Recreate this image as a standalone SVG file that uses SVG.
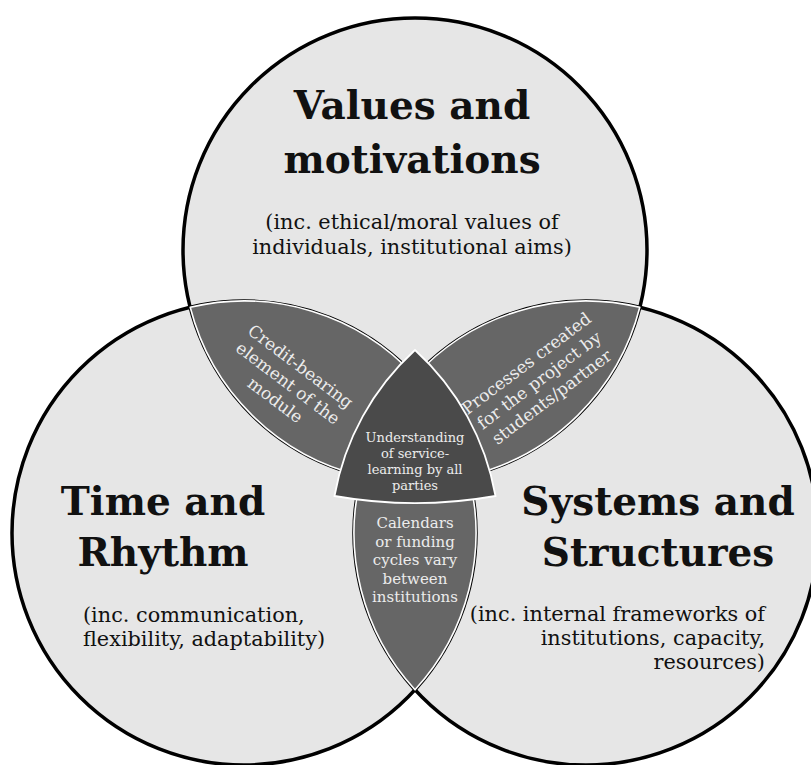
<svg xmlns="http://www.w3.org/2000/svg" width="811" height="765" viewBox="0 0 811 765">
<style>
.fill{fill:#e6e6e6;stroke:none}
.edge{fill:none;stroke:#000;stroke-width:3.5}
.lens{fill:#666666;stroke:#fff;stroke-width:1.6;stroke-linejoin:round}
.core{fill:#4a4a4a;stroke:#fff;stroke-width:1.8;stroke-linejoin:miter}
.title{font-family:"DejaVu Serif","Liberation Serif",serif;font-weight:bold;font-size:39px;fill:#111}
.sub{font-family:"DejaVu Serif","Liberation Serif",serif;font-size:20.8px;fill:#111}
.in{font-family:"DejaVu Serif","Liberation Serif",serif;fill:#ececec;text-anchor:middle}
</style>
<rect width="811" height="765" fill="#fff"/>
<g id="circles">
<circle class="fill" cx="415" cy="250" r="232"/>
<circle class="fill" cx="244" cy="533" r="232"/>
<circle class="fill" cx="586" cy="533" r="232"/>
<circle class="edge" cx="415" cy="250" r="232"/>
<circle class="edge" cx="244" cy="533" r="232"/>
<circle class="edge" cx="586" cy="533" r="232"/>
</g>
<g id="values">
<text class="title" x="412" y="119" text-anchor="middle">Values and</text>
<text class="title" x="412" y="173" text-anchor="middle">motivations</text>
<text class="sub" x="412" y="229" text-anchor="middle">(inc. ethical/moral values of</text>
<text class="sub" x="412" y="254" text-anchor="middle">individuals, institutional aims)</text>
</g>
<g id="time">
<text class="title" x="163" y="515" text-anchor="middle">Time and</text>
<text class="title" x="163" y="566" text-anchor="middle">Rhythm</text>
<text class="sub" x="83" y="622">(inc. communication,</text>
<text class="sub" x="83" y="646">flexibility, adaptability)</text>
</g>
<g id="systems">
<text class="title" x="658" y="515" text-anchor="middle">Systems and</text>
<text class="title" x="658" y="566" text-anchor="middle">Structures</text>
<text class="sub" x="765" y="620.5" text-anchor="end">(inc. internal frameworks of</text>
<text class="sub" x="765" y="645" text-anchor="end">institutions, capacity,</text>
<text class="sub" x="765" y="669" text-anchor="end">resources)</text>
</g>
<g id="credit">
<path class="lens" d="M 190.2 307.3 A 232 232 0 0 1 415 376.2 A 232 232 0 0 0 361.2 475.7 A 232 232 0 0 1 190.2 307.3 Z"/>
<g transform="translate(288,383) rotate(37)" font-size="17">
<text class="in" x="0" y="-15">Credit-bearing</text>
<text class="in" x="0" y="6">element of the</text>
<text class="in" x="0" y="27">module</text>
</g>
</g>
<g id="processes">
<path class="lens" d="M 639.8 307.3 A 232 232 0 0 0 415 376.2 A 232 232 0 0 1 468.8 475.7 A 232 232 0 0 0 639.8 307.3 Z"/>
<g transform="translate(539,380) rotate(-37)" font-size="17">
<text class="in" x="0" y="-15">Processes created</text>
<text class="in" x="0" y="6">for the project by</text>
<text class="in" x="0" y="27">students/partner</text>
</g>
</g>
<g id="calendars">
<path class="lens" d="M 361.2 475.7 A 232 232 0 0 0 415 689.8 A 232 232 0 0 0 468.8 475.7 A 232 232 0 0 1 361.2 475.7 Z"/>
<g font-size="15">
<text class="in" x="415" y="528">Calendars</text>
<text class="in" x="415" y="546.6">or funding</text>
<text class="in" x="415" y="565.2">cycles vary</text>
<text class="in" x="415" y="583.8">between</text>
<text class="in" x="415" y="602.4">institutions</text>
</g>
</g>
<g id="understanding">
<path class="core" d="M 415 350 A 260 260 0 0 1 495.5 496 A 460 460 0 0 1 334.5 496 A 260 260 0 0 1 415 350 Z"/>
<g font-size="13">
<text class="in" x="415" y="442">Understanding</text>
<text class="in" x="415" y="458">of service-</text>
<text class="in" x="415" y="474">learning by all</text>
<text class="in" x="415" y="490">parties</text>
</g>
</g>
</svg>
